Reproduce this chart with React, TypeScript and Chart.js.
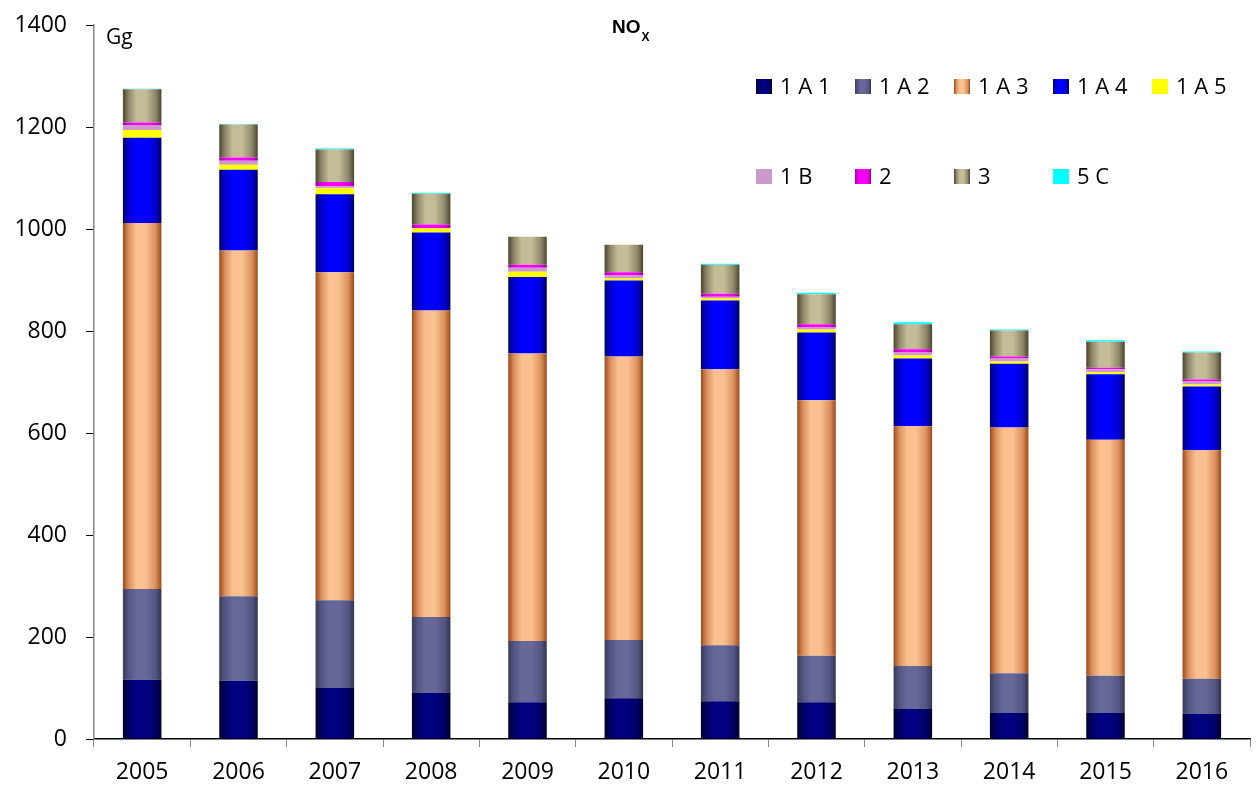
import React, { useEffect, useRef } from "react";
import { Chart, registerables } from "chart.js";

Chart.register(...registerables);

// ---- data ----
const years = ["2005", "2006", "2007", "2008", "2009", "2010", "2011", "2012", "2013", "2014", "2015", "2016"];
const labels = ["1 A 1", "1 A 2", "1 A 3", "1 A 4", "1 A 5", "1 B", "2", "3", "5 C"];
const s1A1 = [116, 114, 100, 90, 72, 80, 74, 72, 59, 51, 51, 49];
const s1A2 = [178, 166, 172, 149, 120, 114, 110, 91, 84, 78, 73, 69];
const s1A3 = [718, 678, 643, 601, 564, 556, 541, 501, 470, 482, 463, 448];
const s1A4 = [167, 158, 153, 153, 150, 149, 135, 133, 133, 125, 128, 125];
const s1A5 = [15, 10, 12, 8, 10, 4, 4, 6, 6, 4, 4, 4];
const s1B = [10, 8, 4, 1, 8, 6, 3, 4, 6, 6, 6, 6];
const s2 = [5, 6, 8, 7, 6, 6, 6, 6, 6, 4, 3, 4];
const s3 = [65, 65, 64, 60, 55, 54, 57, 59, 49, 51, 51, 53];
const s5C = [1, 1, 2, 2, 0, 0, 2, 3, 4, 2, 3, 2];
const yTicks = [0, 200, 400, 600, 800, 1000, 1200, 1400];

// ---- styles ----
const FONT = "'Open Sans', 'Liberation Sans', sans-serif";
const BAR_PCT = 0.4;
// gradient stops: [edgeDark, mid, light, light, mid, edgeDark]
const palettes: string[][] = [
  ["#00002a", "#000066", "#000080", "#000080", "#000066", "#00002a"],
  ["#3a3a58", "#555585", "#686898", "#686898", "#555585", "#33334f"],
  ["#9c4a18", "#d9905e", "#fac08f", "#fac08f", "#d9905e", "#9c4a18"],
  ["#000070", "#0000d0", "#0000ff", "#0000ff", "#0000d0", "#000060"],
  ["#ffff00", "#ffff00", "#ffff00", "#ffff00", "#ffff00", "#ffff00"],
  ["#cc99cc", "#cc99cc", "#cc99cc", "#cc99cc", "#cc99cc", "#cc99cc"],
  ["#a000a0", "#e000e0", "#ff00ff", "#ff00ff", "#e000e0", "#900090"],
  ["#4a4530", "#8e876a", "#c4bc96", "#c4bc96", "#8e876a", "#4a4530"],
  ["#00ffff", "#00ffff", "#00ffff", "#00ffff", "#00ffff", "#00ffff"],
];
const STOP_POS = [0, 0.15, 0.35, 0.6, 0.85, 1];

function gradient(ctx: CanvasRenderingContext2D, x0: number, x1: number, stops: string[]) {
  if (!isFinite(x0) || !isFinite(x1) || x1 <= x0) return stops[2];
  const g = ctx.createLinearGradient(x0, 0, x1, 0);
  stops.forEach((c, i) => g.addColorStop(STOP_POS[i], c));
  return g;
}

function makeBg(stops: string[]) {
  return (context: any) => {
    const chart = context.chart;
    const xs = chart.scales && chart.scales.x;
    if (!xs || context.dataIndex === undefined) return stops[2];
    const cx = xs.getPixelForValue(context.dataIndex);
    const w = (xs.width / years.length) * BAR_PCT;
    return gradient(chart.ctx, cx - w / 2, cx + w / 2, stops);
  };
}

const legendPlugin = {
  id: "customLegend",
  afterDraw(chart: any) {
    const ctx: CanvasRenderingContext2D = chart.ctx;
    const slots = [
      [0, 0], [1, 0], [2, 0], [3, 0], [4, 0],
      [0, 1], [1, 1], [2, 1], [3, 1],
    ];
    ctx.save();
    chart.data.datasets.forEach((ds: any, i: number) => {
      const [col, row] = slots[i];
      const bx = 756 + col * 99;
      const cy = 86.5 + row * 90;
      ctx.fillStyle = gradient(ctx, bx, bx + 16, palettes[i]) as any;
      ctx.fillRect(bx, cy - 7.5, 16, 15);
      ctx.fillStyle = "#000";
      ctx.font = `22px ${FONT}`;
      ctx.textBaseline = "middle";
      ctx.textAlign = "left";
      ctx.fillText(ds.label, bx + 24, cy + 1);
    });
    // title NOx
    ctx.font = `bold 19px 'Liberation Sans', Arial, sans-serif`;
    ctx.textBaseline = "alphabetic";
    ctx.fillText("NO", 612, 33);
    const w = ctx.measureText("NO").width;
    ctx.font = `bold 12px 'Liberation Sans', Arial, sans-serif`;
    ctx.fillText("X", 612 + w + 1, 41);
    // unit
    ctx.font = `21px ${FONT}`;
    ctx.fillText("Gg", 106, 44);
    ctx.restore();
  },
};

export default function App() {
  const ref = useRef<HTMLCanvasElement | null>(null);
  useEffect(() => {
    if (!ref.current) return;
    const series = [s1A1, s1A2, s1A3, s1A4, s1A5, s1B, s2, s3, s5C];
    const chart = new Chart(ref.current, {
      type: "bar",
      data: {
        labels: years,
        datasets: series.map((d, i) => ({
          label: labels[i],
          data: d,
          backgroundColor: makeBg(palettes[i]),
          borderWidth: 0,
          barPercentage: BAR_PCT,
          categoryPercentage: 1,
        })),
      },
      options: {
        responsive: false,
        animation: false,
        layout: { padding: { top: 25, right: 6, left: 0, bottom: 0 } },
        plugins: { legend: { display: false }, tooltip: { enabled: false }, title: { display: false } },
        scales: {
          x: {
            stacked: true,
            grid: { drawOnChartArea: false, drawTicks: true, tickLength: 8, tickColor: "#868686", offset: true },
            border: { color: "#000", width: 1.5 },
            ticks: { color: "#000", font: { family: FONT, size: 23 }, padding: 12, maxRotation: 0 },
            afterFit: (s: any) => { s.height = 46; s.paddingLeft = 0; s.paddingRight = 0; },
          },
          y: {
            stacked: true,
            min: 0,
            max: 1400,
            afterBuildTicks: (s: any) => { s.ticks = yTicks.map((v) => ({ value: v })); },
            grid: { drawOnChartArea: false, drawTicks: true, tickLength: 8, tickColor: "#000" },
            border: { color: "#868686", width: 1.5 },
            ticks: { color: "#000", font: { family: FONT, size: 23 }, padding: 19, callback: (v: any) => String(v) },
            afterFit: (s: any) => { s.width = 94; s.paddingTop = 0; s.paddingBottom = 0; },
          },
        },
      },
      plugins: [legendPlugin],
    });
    return () => chart.destroy();
  }, []);
  return (
    <div style={{ position: "fixed", left: 0, top: 0, width: 1256, height: 785, background: "#fff" }}>
      <canvas ref={ref} width={1256} height={785} style={{ display: "block" }} />
    </div>
  );
}
